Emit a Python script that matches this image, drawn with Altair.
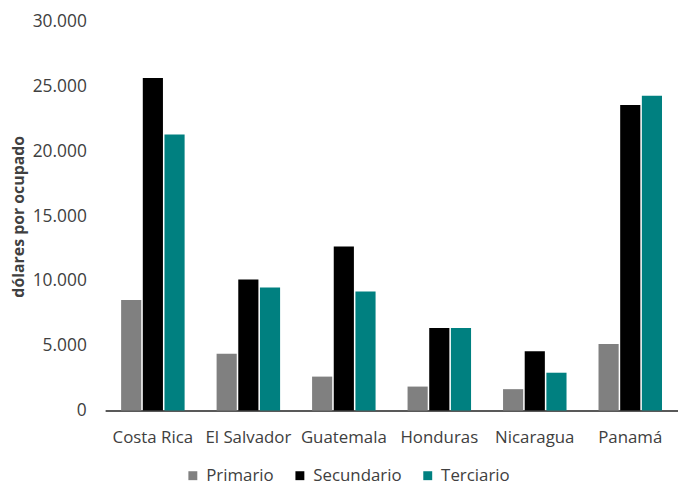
import altair as alt
import pandas as pd

countries = ["Costa Rica", "El Salvador", "Guatemala", "Honduras", "Nicaragua", "Panamá"]
sectors = ["Primario", "Secundario", "Terciario"]
primario = [8530, 4380, 2620, 1850, 1650, 5140]
secundario = [25680, 10120, 12670, 6370, 4580, 23590]
terciario = [21310, 9500, 9200, 6370, 2920, 24300]
colors = ["#808080", "#000000", "#008080"]

rows = []
for i, c in enumerate(countries):
    for s, vals in zip(sectors, [primario, secundario, terciario]):
        rows.append({"pais": c, "sector": s, "valor": vals[i]})
df = pd.DataFrame(rows)

font = "Open Sans"

chart = alt.Chart(df).mark_bar().encode(
    x=alt.X("pais:N", sort=countries, title=None,
            scale=alt.Scale(paddingInner=0.335, paddingOuter=0.1675),
            axis=alt.Axis(labelAngle=0, ticks=False, domainColor="#595959", domainWidth=2,
                          labelFont=font, labelFontSize=17, labelColor="#404040",
                          labelPadding=19)),
    xOffset=alt.XOffset("sector:N", sort=sectors, scale=alt.Scale(paddingInner=0.07)),
    y=alt.Y("valor:Q", title="dólares por ocupado",
            scale=alt.Scale(domain=[0, 30000], nice=False),
            axis=alt.Axis(values=[0, 5000, 10000, 15000, 20000, 25000, 30000],
                          format=",d", grid=False, domain=False, ticks=False,
                          labelFont=font, labelFontSize=17.5, labelColor="#404040",
                          labelPadding=19, titleFont=font, titleFontSize=16,
                          titleFontWeight="bold", titleColor="#404040", titlePadding=6)),
    color=alt.Color("sector:N", sort=sectors,
                    scale=alt.Scale(domain=sectors, range=colors),
                    legend=alt.Legend(title=None, orient="none", direction="horizontal",
                                      legendX=80, legendY=449, symbolType="square",
                                      symbolSize=81, symbolStrokeWidth=0,
                                      labelFont=font, labelFontSize=17, labelColor="#404040",
                                      columnPadding=17, labelOffset=5)),
).properties(
    width=578, height=392,
    autosize=alt.AutoSizeParams(type="none"),
    padding={"left": 98, "top": 12, "right": 0, "bottom": 73},
).configure(
    locale={"number": {"decimal": ",", "thousands": ".", "grouping": [3], "currency": ["$", ""]}},
    view=alt.ViewConfig(stroke=None),
)

chart.save("out.html", embed_options={"renderer": "svg", "actions": False})
